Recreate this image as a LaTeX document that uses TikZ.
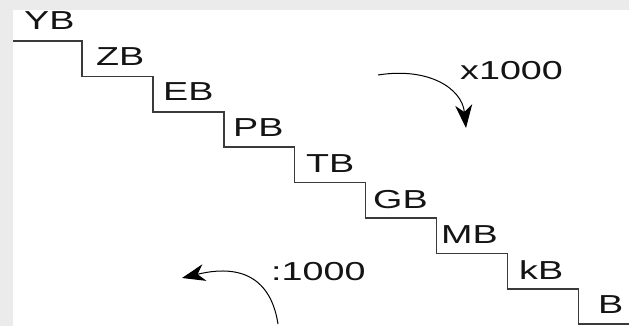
\documentclass[tikz,border=0pt]{standalone}
\usepackage{fontspec}
\setmainfont{Liberation Sans}
\usetikzlibrary{arrows.meta}
\definecolor{bandgray}{HTML}{EBEBEB}
\definecolor{stepgray}{HTML}{3A3A3A}
\newcommand{\wide}[1]{\scalebox{1.45}[1]{#1}}
\tikzset{
  lbl/.style={anchor=base west, inner sep=0pt, font=\fontsize{26}{30}\selectfont, text=black!92},
  stairline/.style={draw=stepgray, line width=1.5pt},
  curvearrow/.style={draw=black, line width=1pt, -{Stealth[length=23pt, width=17pt, inset=7pt]}}
}
\begin{document}
\begin{tikzpicture}[x=1pt,y=-1pt]
\useasboundingbox (0,0) rectangle (629,326);
\fill[white] (0,0) rectangle (629,326);
% staircase
\draw[stairline] (13,41)
  -- (82,41) -- (82,76.4)
  -- (152.9,76.4) -- (152.9,111.8)
  -- (223.8,111.8) -- (223.8,147.2)
  -- (294.7,147.2) -- (294.7,182.6)
  -- (365.6,182.6) -- (365.6,218)
  -- (436.5,218) -- (436.5,253.4)
  -- (507.4,253.4) -- (507.4,288.8)
  -- (578.3,288.8) -- (578.3,324.2)
  -- (640,324.2);
% labels
\node[lbl] (yb) at (24,30) {\wide{YB}};
\node[lbl] (zb) at (96,66) {\wide{ZB}};
\node[lbl] (eb) at (163,101) {\wide{EB}};
\node[lbl] (pb) at (233,137) {\wide{PB}};
\node[lbl] (tb) at (306,172) {\wide{TB}};
\node[lbl] (gb) at (373,208) {\wide{GB}};
\node[lbl] (mb) at (441,243) {\wide{MB}};
\node[lbl] (kb) at (519,279) {\wide{kB}};
\node[lbl] (b) at (598,313) {\wide{B}};
\node[lbl] (up) at (460,80) {\wide{x1000}};
\node[lbl] (down) at (271,280) {\wide{:1000}};
% arrows
\coordinate (s1) at (378,75);
\coordinate (e1) at (466,128);
\draw[curvearrow] (s1) .. controls (428,67) and (462,88) .. (e1);
\coordinate (s2) at (278,324);
\coordinate (e2) at (182,278);
\draw[curvearrow] (s2) .. controls (272,285) and (248,262) .. (e2);
% gray bands
\fill[bandgray] (0,0) rectangle (629,10);
\fill[bandgray] (0,0) rectangle (13,326);
\end{tikzpicture}
\end{document}
